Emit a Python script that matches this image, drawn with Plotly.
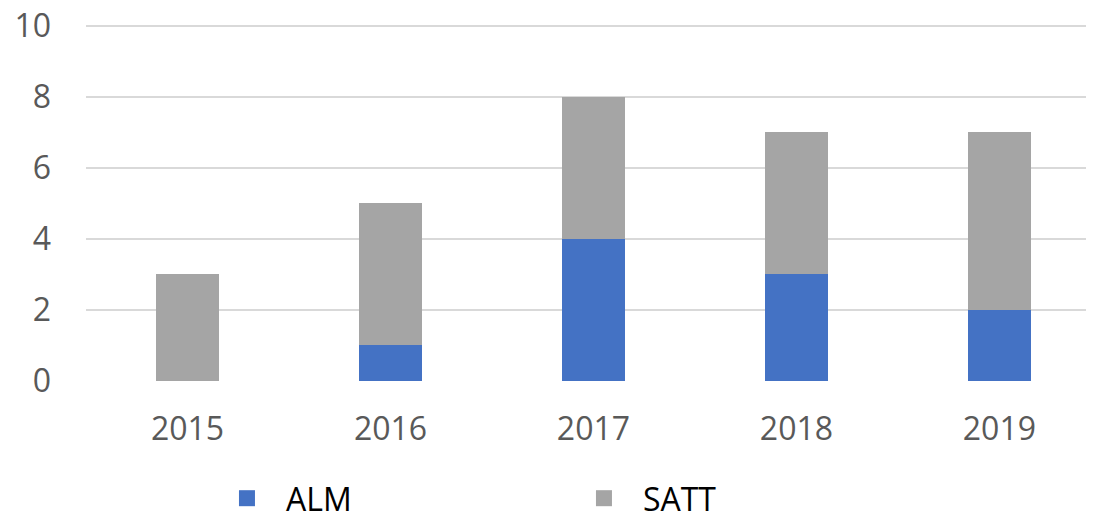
import plotly.graph_objects as go

years = ["2015", "2016", "2017", "2018", "2019"]
alm = [0, 1, 4, 3, 2]
satt = [3, 4, 4, 4, 5]
series_names = ["ALM", "SATT"]
colors = ["#4472C4", "#A5A5A5"]

FONT = "Open Sans"

fig = go.Figure()
for name, vals, col in zip(series_names, [alm, satt], colors):
    fig.add_trace(go.Bar(x=years, y=vals, name=name, marker=dict(color=col, line=dict(width=0)),
                         width=0.31, showlegend=False))
for name, col in zip(series_names, colors):
    fig.add_trace(go.Scatter(x=[None], y=[None], mode="markers", name=name,
                             marker=dict(symbol="square", size=20, color=col)))

fig.update_layout(
    barmode="stack",
    width=1086, height=511,
    margin=dict(l=78, r=0, t=14, b=138, autoexpand=False),
    plot_bgcolor="white", paper_bgcolor="white",
    font=dict(family=FONT, size=32, color="#595959"),
    xaxis=dict(type="category", range=[-0.5, 4.466], showgrid=False, showline=False,
               zeroline=False, ticks="", tickfont=dict(size=32, color="#595959"),
               ticklabelstandoff=26, automargin=False, ticklabeloverflow="allow"),
    yaxis=dict(range=[0, 10.1], tickvals=[0, 2, 4, 6, 8, 10], showgrid=True,
               gridcolor="#D9D9D9", gridwidth=1.5,
               zeroline=False, showline=False, ticks="", tickfont=dict(size=32, color="#595959"),
               ticklabelstandoff=34, automargin=False, ticklabeloverflow="allow"),
    legend=dict(orientation="h", x=0.121, xanchor="left", y=-0.327, yanchor="middle",
                traceorder="normal", itemwidth=68,
                font=dict(size=32, color="#000000"), entrywidth=274, entrywidthmode="pixels",
                bgcolor="rgba(0,0,0,0)"),
)

fig.write_html("out.html")
